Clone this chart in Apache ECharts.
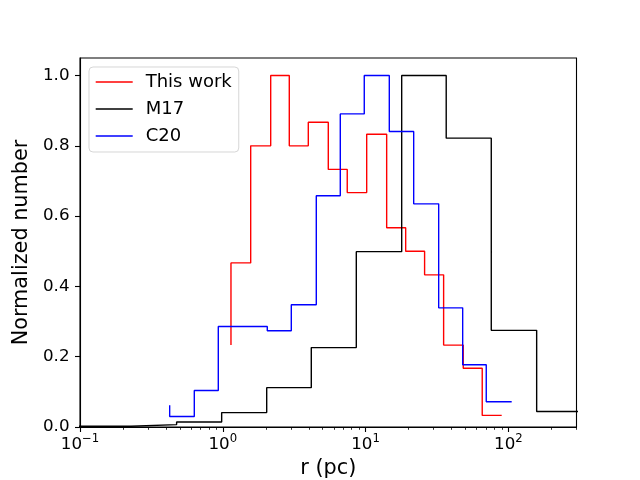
<!DOCTYPE html>
<html><head><meta charset="utf-8">
<script src="https://cdn.jsdelivr.net/npm/echarts@6/dist/echarts.min.js"></script>
<style>html,body{margin:0;padding:0;background:#fff}#c{width:640px;height:480px}</style>
</head><body><div id="c"></div>
<script>
const seriesNames = ['This work', 'M17', 'C20'];
const seriesColors = ['#ff0000', '#000000', '#0000ff'];

// step ("pre") histogram points: r (pc) and normalized number
const thisWorkR = [1.141, 1.568, 2.165, 2.922, 3.97, 5.48, 7.44, 10.18, 14.05, 19.09, 25.9, 35.2, 48.3, 65.6, 89.8];
const thisWorkN = [0.233, 0.467, 0.8, 1.0, 0.8, 0.867, 0.733, 0.667, 0.833, 0.567, 0.5, 0.433, 0.233, 0.167, 0.033];

const m17R = [0.0535, 0.110, 0.2276, 0.475, 0.982, 2.03, 4.166, 8.61, 17.9, 36.7, 75.9, 157.8, 326.6];
const m17N = [0.0023, 0.0023, 0.0023, 0.0068, 0.0142, 0.041, 0.112, 0.226, 0.499, 1.0, 0.822, 0.275, 0.044];

const c20R = [0.4246, 0.6316, 0.930, 1.380, 2.049, 3.018, 4.516, 6.65, 9.79, 14.66, 21.72, 32.5, 47.86, 70.0, 105.5];
const c20N = [0.062, 0.030, 0.104, 0.286, 0.286, 0.274, 0.348, 0.658, 0.891, 1.0, 0.841, 0.635, 0.339, 0.177, 0.072];

const xMajorTicks = [0.1, 1, 10, 100];
const xMajorExponents = ['\u22121', '0', '1', '2'];
const xMinorTicks = [0.2, 0.3, 0.4, 0.5, 0.6, 0.7, 0.8, 0.9, 2, 3, 4, 5, 6, 7, 8, 9, 20, 30, 40, 50, 60, 70, 80, 90, 200, 300];
const yTicks = [0, 0.2, 0.4, 0.6, 0.8, 1.0];
const yTickLabels = ['0.0', '0.2', '0.4', '0.6', '0.8', '1.0'];

const FONT = 'DejaVu Sans';
const zip = (a, b) => a.map((v, i) => [v, b[i]]);
const seriesData = [zip(thisWorkR, thisWorkN), zip(m17R, m17N), zip(c20R, c20N)];

const chart = echarts.init(document.getElementById('c'), null, {renderer: 'canvas'});
chart.setOption({
  animation: false,
  backgroundColor: '#fff',
  grid: {left: 80, top: 58, right: 63.5, bottom: 53, show: true, borderColor: '#000', borderWidth: 1.1,
         backgroundColor: 'transparent', containLabel: false, outerBoundsMode: 'none'},
  legend: {
    orient: 'vertical', left: 89, top: 67,
    padding: [6, 7, 7, 6],
    itemWidth: 37, itemHeight: 12, itemGap: 9,
    backgroundColor: 'rgba(255,255,255,0.8)', borderColor: 'rgba(204,204,204,0.8)', borderWidth: 1, borderRadius: 4,
    itemStyle: {opacity: 0},
    lineStyle: {width: 1.4},
    textStyle: {fontFamily: FONT, fontSize: 18, color: '#000', padding: [0, 0, 0, 8]},
    data: seriesNames
  },
  xAxis: [{
    type: 'log', logBase: 10, min: 0.1, max: 300,
    name: 'r (pc)', nameLocation: 'middle', nameGap: 26,
    nameTextStyle: {fontFamily: FONT, fontSize: 20.8, color: '#000'},
    axisLine: {show: true, lineStyle: {color: '#000', width: 1.1}},
    axisTick: {show: true, length: 5, lineStyle: {color: '#000', width: 1.1}, customValues: xMajorTicks},
    axisLabel: {
      show: true, margin: 6, customValues: xMajorTicks, color: '#000',
      formatter: v => {
        const i = xMajorTicks.findIndex(t => Math.abs(t - v) / t < 1e-6);
        return i < 0 ? '' : '{b|10}{s|' + xMajorExponents[i] + '}';
      },
      rich: {
        b: {fontFamily: FONT, fontSize: 16.7, color: '#000'},
        s: {fontFamily: FONT, fontSize: 11.7, color: '#000', padding: [0, 0, 12, 0]}
      }
    },
    splitLine: {show: false}, minorTick: {show: false}
  }, {
    type: 'log', logBase: 10, min: 0.1, max: 300, position: 'bottom',
    axisLine: {show: false},
    axisTick: {show: true, length: 2.8, lineStyle: {color: '#000', width: 0.8}, customValues: xMinorTicks},
    axisLabel: {show: false}, splitLine: {show: false}
  }],
  yAxis: {
    type: 'value', min: 0, max: 1.05,
    name: 'Normalized number', nameLocation: 'middle', nameGap: 43, nameRotate: 90,
    nameTextStyle: {fontFamily: FONT, fontSize: 20.8, color: '#000'},
    axisLine: {show: true, lineStyle: {color: '#000', width: 1.1}},
    axisTick: {show: true, length: 5, lineStyle: {color: '#000', width: 1.1}, customValues: yTicks},
    axisLabel: {
      margin: 10.5, customValues: yTicks, color: '#000', fontFamily: FONT, fontSize: 16.7,
      formatter: v => { const i = yTicks.findIndex(t => Math.abs(t - v) < 1e-9); return i < 0 ? '' : yTickLabels[i]; }
    },
    splitLine: {show: false}
  },
  series: seriesNames.map((n, k) => ({
    type: 'line', name: n, data: seriesData[k], step: 'start',
    xAxisIndex: 0, yAxisIndex: 0,
    symbol: 'none', showSymbol: false, clip: true,
    lineStyle: {color: seriesColors[k], width: 1.4},
    itemStyle: {color: seriesColors[k]}
  }))
});
</script></body></html>
